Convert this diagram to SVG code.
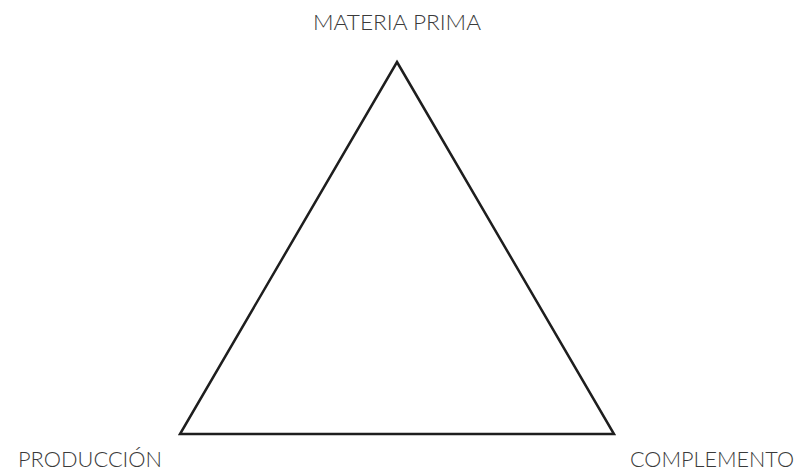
<svg xmlns="http://www.w3.org/2000/svg" width="799" height="470" viewBox="0 0 799 470">
<style>
.lbl{font-family:Lato,"Open Sans","Liberation Sans",sans-serif;font-size:21.5px;font-weight:300;fill:#3a3a3a}
.edge{fill:none;stroke:#1e1e1e;stroke-width:2.5;stroke-linejoin:miter}
</style>
<rect width="799" height="470" fill="#ffffff"/>
<g id="connectors">
<polygon class="edge" points="397,62 614,434 180,434"/>
</g>
<g id="materia-prima"><text class="lbl" x="313" y="30" textLength="168" lengthAdjust="spacingAndGlyphs">MATERIA PRIMA</text></g>
<g id="produccion"><text class="lbl" x="18" y="467" textLength="144" lengthAdjust="spacingAndGlyphs">PRODUCCIÓN</text></g>
<g id="complemento"><text class="lbl" x="630" y="467" textLength="164" lengthAdjust="spacingAndGlyphs">COMPLEMENTO</text></g>
</svg>
